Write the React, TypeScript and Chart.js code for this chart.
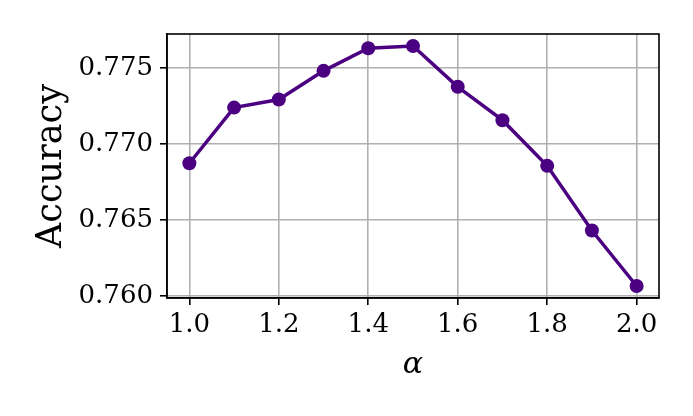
import React, { useEffect, useRef } from "react";
import { Chart, registerables } from "chart.js";

Chart.register(...registerables);

const alphas = [1.0, 1.1, 1.2, 1.3, 1.4, 1.5, 1.6, 1.7, 1.8, 1.9, 2.0];
const accuracy = [0.76874, 0.77241, 0.77294, 0.77483, 0.77632, 0.77647, 0.77378, 0.77158, 0.76857, 0.76431, 0.76065];
const xTicks = [1.0, 1.2, 1.4, 1.6, 1.8, 2.0];
const yTicks = [0.76, 0.765, 0.77, 0.775];

const LINE_COLOR = "#4b0082";
const FONT = "'DejaVu Serif', serif";

const framePlugin = {
  id: "frame",
  afterDraw(chart: any) {
    const { ctx, chartArea } = chart;
    ctx.save();
    ctx.strokeStyle = "#000";
    ctx.lineWidth = 1.6;
    ctx.strokeRect(chartArea.left, chartArea.top, chartArea.right - chartArea.left, chartArea.bottom - chartArea.top);
    ctx.restore();
  },
};

export default function App() {
  const ref = useRef<HTMLCanvasElement>(null);
  useEffect(() => {
    if (!ref.current) return;
    const chart = new Chart(ref.current, {
      type: "line",
      data: {
        datasets: [
          {
            data: alphas.map((a, i) => ({ x: a, y: accuracy[i] })),
            borderColor: LINE_COLOR,
            backgroundColor: LINE_COLOR,
            borderWidth: 3.5,
            pointRadius: 7,
            pointBorderWidth: 0,
            pointBackgroundColor: LINE_COLOR,
            tension: 0,
            fill: false,
          },
        ],
      },
      options: {
        responsive: false,
        animation: false,
        events: [],
        layout: { padding: { top: 34, right: 34, left: 0, bottom: 0 } },
        plugins: { legend: { display: false }, tooltip: { enabled: false } },
        scales: {
          x: {
            type: "linear",
            min: 0.95,
            max: 2.05,
            afterBuildTicks: (s: any) => {
              s.ticks = xTicks.map((v) => ({ value: v }));
            },
            afterFit: (s: any) => {
              s.height = 118;
            },
            ticks: {
              font: { family: FONT, size: 26 },
              color: "#000",
              padding: 5,
              maxRotation: 0,
              callback: (v: any) => Number(v).toFixed(1),
            },
            grid: {
              color: "#b0b0b0",
              lineWidth: 1.6,
              tickColor: "#000",
              tickLength: 7,
              tickWidth: 1.6,
            },
            border: { color: "#000", width: 1.6 },
            title: {
              display: true,
              text: "α",
              font: { family: FONT, size: 30, style: "italic" },
              color: "#000",
              padding: { top: 0, bottom: 33 },
            },
          },
          y: {
            type: "linear",
            min: 0.75986,
            max: 0.77726,
            afterBuildTicks: (s: any) => {
              s.ticks = yTicks.map((v) => ({ value: v }));
            },
            afterFit: (s: any) => {
              s.width = 167;
            },
            ticks: {
              font: { family: FONT, size: 26 },
              color: "#000",
              padding: 7,
              callback: (v: any) => Number(v).toFixed(3),
            },
            grid: {
              color: "#b0b0b0",
              lineWidth: 1.6,
              tickColor: "#000",
              tickLength: 7,
              tickWidth: 1.6,
            },
            border: { color: "#000", width: 1.6 },
            title: {
              display: true,
              text: "Accuracy",
              font: { family: FONT, size: 35 },
              color: "#000",
              padding: { top: 31, bottom: 0 },
            },
          },
        },
      },
      plugins: [framePlugin],
    });
    return () => chart.destroy();
  }, []);
  return (
    <div style={{ position: "fixed", left: 0, top: 0, width: 693, height: 416, background: "#fff" }}>
      <canvas ref={ref} width={693} height={416} style={{ width: 693, height: 416 }} />
    </div>
  );
}
